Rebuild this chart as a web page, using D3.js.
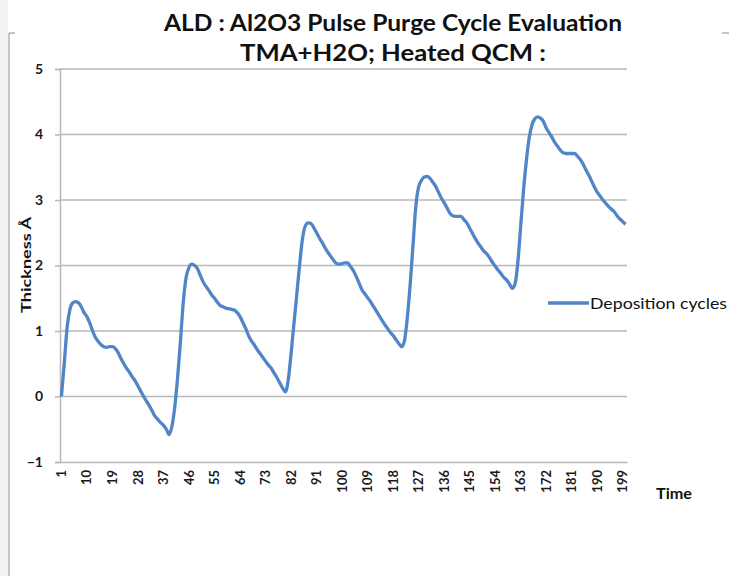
<!DOCTYPE html>
<html>
<head>
<meta charset="utf-8">
<script src="https://cdn.jsdelivr.net/npm/d3@7"></script>
<style>
  body { margin: 0; background: #fff; }
  svg { display: block; font-family: Lato, "Open Sans", sans-serif; }
</style>
</head>
<body>
<svg id="chart"></svg>
<script>
const width = 735, height = 576;

// thickness (Å), one value per time step 1..200
const thickness = [
  0, 0.5, 1.05, 1.33, 1.43, 1.45, 1.43, 1.37, 1.28, 1.22,
  1.12, 1.0, 0.9, 0.84, 0.79, 0.76, 0.75, 0.76, 0.76, 0.73,
  0.67, 0.58, 0.5, 0.43, 0.37, 0.3, 0.24, 0.16, 0.08, 0.0,
  -0.07, -0.14, -0.22, -0.3, -0.35, -0.4, -0.44, -0.5, -0.58, -0.45,
  -0.15, 0.3, 0.85, 1.45, 1.82, 1.97, 2.02, 2.0, 1.95, 1.85,
  1.75, 1.68, 1.62, 1.55, 1.5, 1.44, 1.39, 1.37, 1.35, 1.34,
  1.33, 1.32, 1.28, 1.22, 1.13, 1.04, 0.93, 0.85, 0.79, 0.72,
  0.66, 0.6, 0.54, 0.48, 0.43, 0.36, 0.29, 0.21, 0.13, 0.07,
  0.25, 0.65, 1.1, 1.55, 2.0, 2.4, 2.6, 2.65, 2.64, 2.58,
  2.5, 2.42, 2.35, 2.27, 2.2, 2.14, 2.08, 2.03, 2.02, 2.03,
  2.04, 2.04, 1.98, 1.92, 1.83, 1.73, 1.63, 1.57, 1.51, 1.45,
  1.38, 1.31, 1.24, 1.17, 1.1, 1.04, 0.98, 0.93, 0.87, 0.81,
  0.76, 0.85, 1.2, 1.7, 2.3, 2.9, 3.2, 3.3, 3.35, 3.36,
  3.33, 3.27, 3.21, 3.12, 3.03, 2.96, 2.88, 2.8, 2.76, 2.75,
  2.75, 2.75, 2.7, 2.65, 2.57, 2.49, 2.41, 2.34, 2.28, 2.22,
  2.18, 2.12, 2.05, 1.99, 1.93, 1.88, 1.82, 1.78, 1.72, 1.65,
  1.72, 2.05, 2.6, 3.15, 3.6, 3.95, 4.15, 4.24, 4.27, 4.25,
  4.2, 4.1, 4.03, 3.96, 3.88, 3.82, 3.76, 3.72, 3.71, 3.71,
  3.71, 3.71, 3.67, 3.62, 3.55, 3.46, 3.38, 3.29, 3.2, 3.12,
  3.06, 3.0, 2.95, 2.9, 2.86, 2.82, 2.76, 2.71, 2.67, 2.63
];
const times = thickness.map((d, i) => i + 1);
const timeTicks = [1, 10, 19, 28, 37, 46, 55, 64, 73, 82, 91, 100, 109, 118, 127, 136, 145, 154, 163, 172, 181, 190, 199];
const yTicks = [-1, 0, 1, 2, 3, 4, 5];
const titleLines = ["ALD : Al2O3 Pulse Purge Cycle Evaluation", "TMA+H2O; Heated QCM :"];
const seriesName = "Deposition cycles";

const svg = d3.select("#chart")
  .attr("width", width)
  .attr("height", height);

// page edge / chart frame bits
svg.append("rect").attr("x", 0).attr("y", 0).attr("width", 8).attr("height", height).attr("fill", "#f2f2f2");
svg.append("path")
  .attr("d", "M9,576V33H15")
  .attr("fill", "none").attr("stroke", "#8c8c8c").attr("stroke-width", 1);
svg.append("path")
  .attr("d", "M722,33H729")
  .attr("fill", "none").attr("stroke", "#8c8c8c").attr("stroke-width", 1);

// scales
const x = d3.scaleBand()
  .domain(times)
  .range([60, 627]);
const y = d3.scaleLinear()
  .domain([-1, 5])
  .range([462, 69]);

// gridlines
svg.append("g")
  .selectAll("line")
  .data(yTicks.filter(d => d > -1))
  .enter().append("line")
  .attr("x1", 60).attr("x2", 627)
  .attr("y1", d => y(d)).attr("y2", d => y(d))
  .attr("stroke", "#b8b8b8")
  .attr("stroke-width", 1.5);

// y axis
const yAxis = svg.append("g")
  .attr("transform", "translate(60,0)")
  .call(d3.axisLeft(y).tickValues(yTicks).tickSize(5).tickPadding(12).tickFormat(d3.format("d")));
yAxis.select(".domain").attr("stroke", "#b8b8b8").attr("stroke-width", 1.5);
yAxis.selectAll(".tick line").attr("stroke", "#b8b8b8").attr("stroke-width", 1.5);
yAxis.selectAll(".tick text")
  .attr("fill", "#1a1a1a")
  .style("font-size", "14px")
  .style("font-weight", "bold")
  .style("font-family", "Lato, sans-serif");

// x axis
const xAxis = svg.append("g")
  .attr("transform", `translate(0,${y(-1)})`)
  .call(d3.axisBottom(x).tickValues(timeTicks).tickSize(0).tickPadding(0));
xAxis.select(".domain").attr("stroke", "#b8b8b8").attr("stroke-width", 1.5);
xAxis.selectAll(".tick text")
  .attr("fill", "#1a1a1a")
  .attr("transform", "rotate(-90)")
  .attr("x", -8)
  .attr("y", 0)
  .attr("dy", "0.35em")
  .attr("text-anchor", "end")
  .style("font-size", "13px")
  .style("font-weight", "bold")
  .style("font-family", "Lato, sans-serif");

// series line
const line = d3.line()
  .x((d, i) => x(times[i]) + x.bandwidth() / 2)
  .y(d => y(d))
  .curve(d3.curveMonotoneX);
svg.append("path")
  .datum(thickness)
  .attr("fill", "none")
  .attr("stroke", "#5085c6")
  .attr("stroke-width", 3.3)
  .attr("stroke-linejoin", "round")
  .attr("d", line);

// title
svg.append("g").selectAll("text")
  .data(titleLines)
  .enter().append("text")
  .attr("x", 393)
  .attr("y", (d, i) => 31 + i * 30)
  .attr("text-anchor", "middle")
  .attr("fill", "#111")
  .style("font-size", "22px")
  .style("font-weight", "bold")
  .attr("textLength", (d, i) => i === 0 ? 458 : 306)
  .attr("lengthAdjust", "spacingAndGlyphs")
  .text(d => d);

// axis titles
svg.append("text")
  .attr("transform", "translate(31,265) rotate(-90)")
  .attr("text-anchor", "middle")
  .attr("fill", "#111")
  .style("font-size", "14px")
  .style("font-weight", "bold")
  .attr("textLength", 96)
  .attr("lengthAdjust", "spacingAndGlyphs")
  .text("Thickness Å");

svg.append("text")
  .attr("x", 656)
  .attr("y", 499)
  .attr("fill", "#111")
  .style("font-size", "15px")
  .style("font-weight", "bold")
  .attr("textLength", 36)
  .attr("lengthAdjust", "spacingAndGlyphs")
  .text("Time");

// legend
svg.append("line")
  .attr("x1", 548).attr("x2", 589)
  .attr("y1", 303).attr("y2", 303)
  .attr("stroke", "#5085c6")
  .attr("stroke-width", 3.3);
svg.append("text")
  .attr("x", 590)
  .attr("y", 309)
  .attr("fill", "#111")
  .style("font-size", "15px")
  .attr("textLength", 137)
  .attr("lengthAdjust", "spacingAndGlyphs")
  .text(seriesName);
</script>
</body>
</html>
